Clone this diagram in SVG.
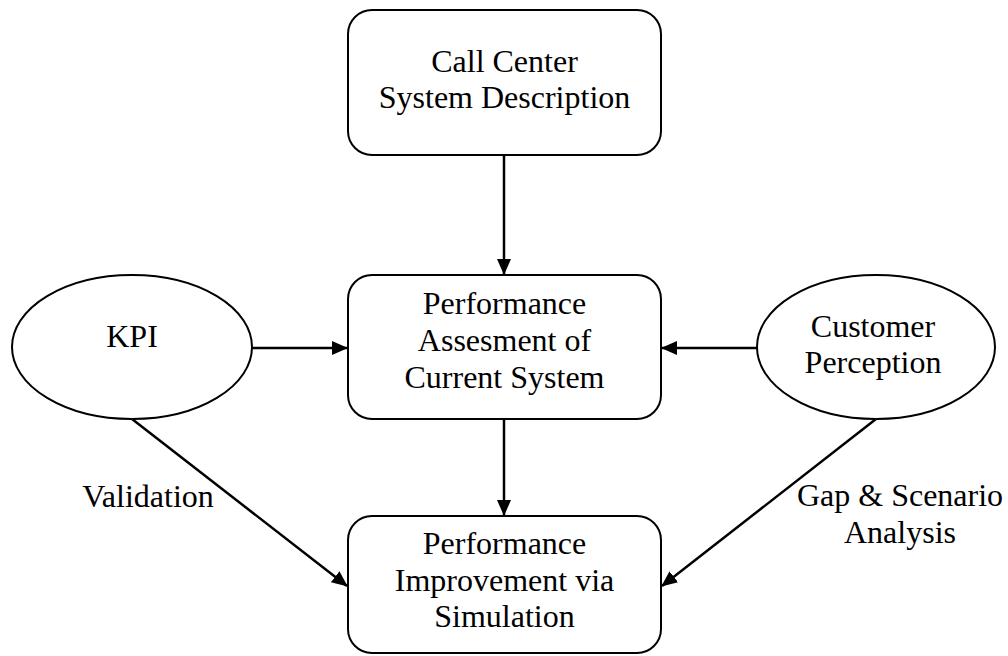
<svg xmlns="http://www.w3.org/2000/svg" width="1008" height="656" viewBox="0 0 1008 656">
  <style>
    .box { fill: #ffffff; stroke: #000000; stroke-width: 2; }
    .lbl { font-family: "Liberation Serif", "Times New Roman", serif; font-size: 32px; fill: #000000; text-anchor: middle; }
    .edge { fill: none; stroke: #000000; stroke-width: 2.5; marker-end: url(#arrow); }
  </style>
  <defs>
    <marker id="arrow" markerUnits="userSpaceOnUse" markerWidth="17" markerHeight="17" refX="15" refY="8.5" orient="auto">
      <path d="M0,1.5 L16,8.5 L0,15.5 Z" fill="#000000"/>
    </marker>
  </defs>
  <rect width="1008" height="656" fill="#ffffff"/>

  <!-- connectors -->
  <g id="connectors">
    <line class="edge" x1="504" y1="155" x2="504" y2="274"/>
    <line class="edge" x1="252" y1="348" x2="347" y2="348"/>
    <line class="edge" x1="757" y1="348" x2="662" y2="348"/>
    <line class="edge" x1="504" y1="419" x2="504" y2="515"/>
    <line class="edge" x1="132" y1="419" x2="347" y2="586"/>
    <line class="edge" x1="876" y1="419" x2="662" y2="586"/>
    <text class="lbl" x="148" y="507">Validation</text>
    <text class="lbl" x="900" y="506">Gap &amp; Scenario</text>
    <text class="lbl" x="900" y="543">Analysis</text>
  </g>

  <g id="node-description">
    <rect class="box" x="348" y="10" width="313" height="145" rx="24" ry="24"/>
    <text class="lbl" x="504.5" y="72">Call Center</text>
    <text class="lbl" x="504.5" y="108">System Description</text>
  </g>

  <g id="node-kpi">
    <ellipse class="box" cx="132" cy="347" rx="120" ry="72"/>
    <text class="lbl" x="132" y="347">KPI</text>
  </g>

  <g id="node-assessment">
    <rect class="box" x="348" y="275" width="313" height="144" rx="24" ry="24"/>
    <text class="lbl" x="504.5" y="314">Performance</text>
    <text class="lbl" x="504.5" y="351">Assesment of</text>
    <text class="lbl" x="504.5" y="388">Current System</text>
  </g>

  <g id="node-perception">
    <ellipse class="box" cx="876" cy="347" rx="119" ry="72"/>
    <text class="lbl" x="873" y="337">Customer</text>
    <text class="lbl" x="873" y="373">Perception</text>
  </g>

  <g id="node-improvement">
    <rect class="box" x="348" y="516" width="313" height="137" rx="24" ry="24"/>
    <text class="lbl" x="504.5" y="554">Performance</text>
    <text class="lbl" x="504.5" y="591">Improvement via</text>
    <text class="lbl" x="504.5" y="627">Simulation</text>
  </g>
</svg>
